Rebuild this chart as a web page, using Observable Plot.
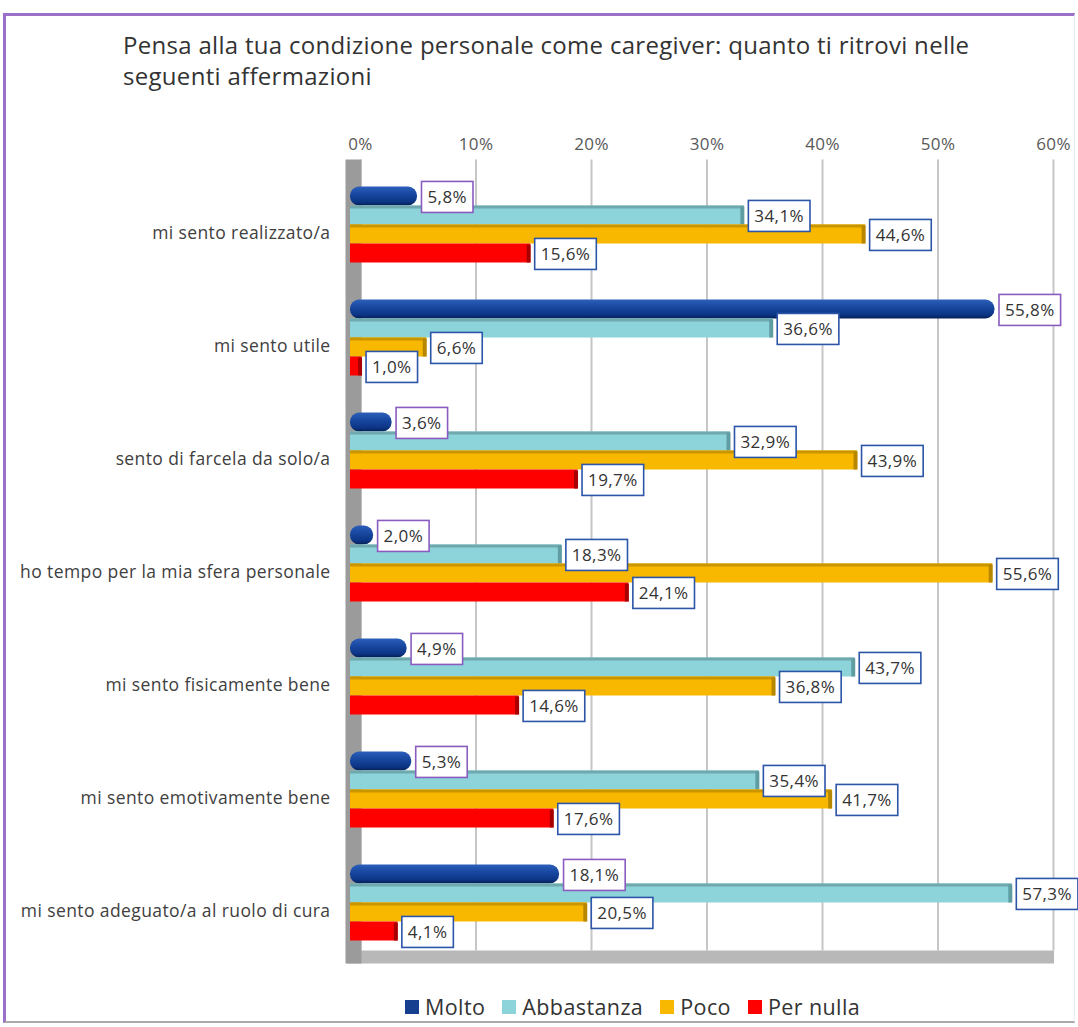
<!DOCTYPE html>
<html><head><meta charset="utf-8">
<script src="https://cdn.jsdelivr.net/npm/d3@7"></script>
<script src="https://cdn.jsdelivr.net/npm/@observablehq/plot@0.6"></script>
<style>
html,body{margin:0;padding:0;background:#fff;}
body{width:1078px;height:1027px;position:relative;overflow:hidden;font-family:"Open Sans",sans-serif;}
#frame{position:absolute;left:3px;top:13px;width:1072px;height:1010px;border-top:3px solid #9b70c8;border-left:3px solid #9b70c8;border-bottom:2px solid #aaa;border-right:1px solid #eee;box-sizing:border-box;}
#title{position:absolute;left:123px;top:29px;font-family:"Open Sans",sans-serif;font-size:24px;color:#333;line-height:31px;letter-spacing:0.3px;}
#chart{position:absolute;left:0;top:110px;}
#legend{position:absolute;top:992px;left:405px;display:flex;align-items:center;font-family:"Open Sans",sans-serif;font-size:21.5px;letter-spacing:0.4px;color:#333;}
#legend .item{display:flex;align-items:center;margin-right:17px;}
#legend .sw{width:14px;height:14px;margin-right:6px;}
</style>
</head><body>
<div id="frame"></div>
<div id="title">Pensa alla tua condizione personale come caregiver: quanto ti ritrovi nelle<br>seguenti affermazioni</div>
<div id="chart"></div>
<div id="legend"></div>
<script>
const categories = ["mi sento realizzato/a","mi sento utile","sento di farcela da solo/a","ho tempo per la mia sfera personale","mi sento fisicamente bene","mi sento emotivamente bene","mi sento adeguato/a al ruolo di cura"];
const series = ["Molto","Abbastanza","Poco","Per nulla"];
const molto = [5.8,55.8,3.6,2.0,4.9,5.3,18.1];
const abbastanza = [34.1,36.6,32.9,18.3,43.7,35.4,57.3];
const poco = [44.6,6.6,43.9,55.6,36.8,41.7,20.5];
const perNulla = [15.6,1.0,19.7,24.1,14.6,17.6,4.1];
const ticks = [0,10,20,30,40,50,60];

const values = [molto, abbastanza, poco, perNulla];
const colors = ["url(#gMolto)","#8cd3da","#f9b800","#ff0000"];
const swatch = ["#163f8f","#8cd3da","#f9b800","#ff0000"];
const capColors = ["#0a2a66","#5f9da2","#b88700","#a80000"];
const edgeColors = [null,"#6fa9ad","#c99600",null];
const boxStroke = ["#8a5cc0","#2c55a8","#2c55a8","#2c55a8"];
const fmt = v => v.toFixed(1).replace(".", ",") + "%";

const BAND = 113, BAR = 19, TOP = 18.5;
const marks = [];
// gridlines (back wall, offset for 3D depth)
marks.push(Plot.ruleX(ticks, {x: d => d, dx: 10, dy: -8, stroke: "#c6c6c6", strokeWidth: 2}));
// floor
marks.push(Plot.barX([{c: categories[categories.length-1], a: ticks[0], b: ticks[ticks.length-1]}],
  {x1: "a", x2: "b", y: "c", fill: "#b8b8b8", insetTop: 104.5, insetBottom: -4.5, insetLeft: -5, insetRight: -9, dx: 2}));
// left wall
marks.push(Plot.ruleX([ticks[0]], {x: d => d, dx: 3, stroke: "#9b9b9b", strokeWidth: 16, insetTop: -8, insetBottom: -5}));
// tick labels
marks.push(Plot.text(ticks, {x: d => d, text: d => d + "%", frameAnchor: "top", dy: -30, dx: 10, fill: "#595959", fontSize: 17}));
// category labels
marks.push(Plot.text(categories, {y: d => d, text: d => d, frameAnchor: "left", dx: -20, dy: 8, textAnchor: "end", fill: "#404040", fontSize: 17.5}));

series.forEach((s, i) => {
  const data = categories.map((c, j) => ({c, v: values[i][j]}));
  const it = TOP + BAR * i, ib = BAND - TOP - BAR * (i + 1);
  marks.push(Plot.barX(data, {x: "v", y: "c", fill: colors[i], insetTop: it, insetBottom: ib, rx: i === 0 ? 9 : 0}));
  if (edgeColors[i]) {
    marks.push(Plot.barX(data, {x: "v", y: "c", fill: edgeColors[i], insetTop: it, insetBottom: BAND - it - 3}));
  }
  if (i > 0) {
    marks.push(Plot.tickX(data, {x: "v", y: "c", stroke: capColors[i], strokeWidth: 4, dx: -2, insetTop: it + 1, insetBottom: ib}));
  }
});
series.forEach((s, i) => {
  const data = categories.map((c, j) => ({c, v: values[i][j]}));
  marks.push(Plot.text(data, {x: "v", y: "c", text: d => fmt(d.v), dx: 10, dy: -28.5 + 19 * i + 1.5,
    textAnchor: "start", fill: "#333", fontSize: 17}));
});

const chart = Plot.plot({
  width: 1078, height: 870,
  marginLeft: 350, marginRight: 35, marginTop: 57.5, marginBottom: 21.5,
  x: {domain: [0, 60], axis: null},
  y: {type: "band", domain: categories, padding: 0, axis: null},
  style: {background: "transparent", fontFamily: "'Open Sans', sans-serif"},
  marks
});
document.getElementById("chart").append(chart);

const ns = "http://www.w3.org/2000/svg";
const defs = document.createElementNS(ns, "defs");
defs.innerHTML = `<linearGradient id="gMolto" x1="0" y1="0" x2="0" y2="1">
  <stop offset="0" stop-color="#2d5fba"/><stop offset="0.35" stop-color="#1a4aa3"/>
  <stop offset="0.8" stop-color="#0c3585"/><stop offset="1" stop-color="#061f55"/></linearGradient>`;
chart.insertBefore(defs, chart.firstChild);

const textGroups = Array.from(chart.querySelectorAll('g[aria-label="text"]'));
textGroups.forEach(g => g.setAttribute("letter-spacing", "0.4"));

// boxes behind value labels (last four text marks)
const labelGroups = textGroups.slice(-4);
labelGroups.forEach((g, i) => {
  g.querySelectorAll("text").forEach(t => {
    const b = t.getBBox();
    const r = document.createElementNS(ns, "rect");
    r.setAttribute("x", b.x - 6);
    r.setAttribute("y", b.y - 4);
    r.setAttribute("width", b.width + 12);
    r.setAttribute("height", b.height + 8);
    r.setAttribute("fill", "#fff");
    r.setAttribute("stroke", boxStroke[i]);
    r.setAttribute("stroke-width", 1.6);
    const tr = t.getAttribute("transform");
    if (tr) r.setAttribute("transform", tr);
    t.parentNode.insertBefore(r, t);
  });
});

// legend
const lg = document.getElementById("legend");
series.forEach((s, i) => {
  const it = document.createElement("div"); it.className = "item";
  const sw = document.createElement("div"); sw.className = "sw"; sw.style.background = swatch[i];
  const tx = document.createElement("span"); tx.textContent = s;
  it.append(sw, tx); lg.append(it);
});
</script>
</body></html>
